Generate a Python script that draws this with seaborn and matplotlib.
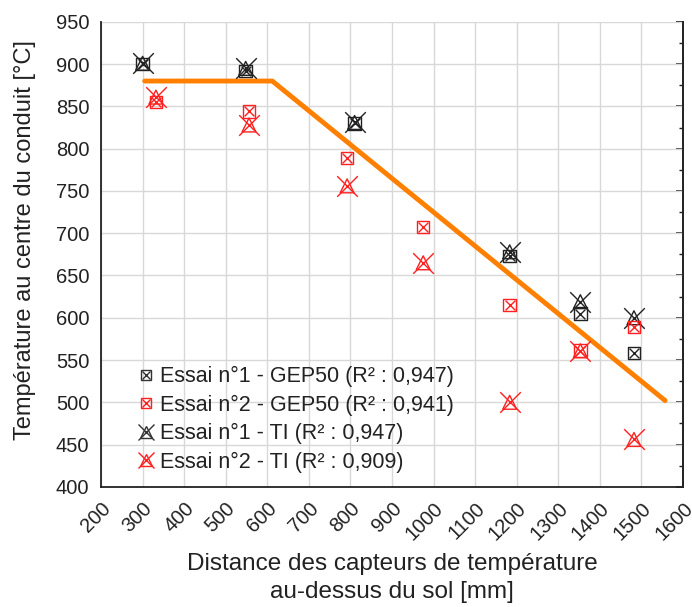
import numpy as np
import pandas as pd
import matplotlib
matplotlib.use('Agg')
import matplotlib.pyplot as plt
import seaborn as sns
from matplotlib.lines import Line2D
from matplotlib.legend_handler import HandlerTuple
from matplotlib.ticker import MultipleLocator

# data
x_e1 = [300, 548, 810, 1183, 1353, 1482]
gep_e1 = [900, 892, 830, 673, 605, 558]
ti_e1 = [901, 895, 831, 678, 619, 600]

x_e2 = [332, 556, 792, 975, 1183, 1353, 1482]
gep_e2 = [855, 844, 789, 707, 615, 561, 589]
ti_e2 = [861, 828, 756, 665, 500, 561, 456]

fit_x = [305, 612, 1557]
fit_y = [880, 880, 502]

labels = ['Essai n°1 - GEP50 (R² : 0,947)', 'Essai n°2 - GEP50 (R² : 0,941)',
          'Essai n°1 - TI (R² : 0,947)', 'Essai n°2 - TI (R² : 0,909)']

sns.set_style('white')
plt.rcParams['font.family'] = ['Liberation Sans', 'DejaVu Sans']
plt.rcParams['font.size'] = 14

fig = plt.figure(figsize=(6.92, 6.07), dpi=100)
ax = fig.add_axes([0.146, 0.198, 0.841, 0.766])

df1 = pd.DataFrame({'x': x_e1, 'gep': gep_e1, 'ti': ti_e1})
df2 = pd.DataFrame({'x': x_e2, 'gep': gep_e2, 'ti': ti_e2})
fit = pd.DataFrame({'x': fit_x, 'y': fit_y})

sns.lineplot(data=fit, x='x', y='y', color='#ff8000', lw=3.5, ax=ax, zorder=2, sort=False)

for d, col in [(df1, '#222222'), (df2, '#ff2020')]:
    # box with cross
    sns.scatterplot(data=d, x='x', y='gep', marker='s', s=80, facecolor='none',
                    edgecolor=col, linewidth=1.0, ax=ax, zorder=3)
    sns.scatterplot(data=d, x='x', y='gep', marker='x', s=50, color=col,
                    linewidth=1.0, ax=ax, zorder=3)
    # triangle with cross
    sns.scatterplot(data=d, x='x', y='ti', marker='^', s=100, facecolor='none',
                    edgecolor=col, linewidth=1.0, ax=ax, zorder=3)
    sns.scatterplot(data=d, x='x', y='ti', marker='x', s=220, color=col,
                    linewidth=1.0, ax=ax, zorder=3)

ax.set_xlim(200, 1600)
ax.set_ylim(400, 950)
ax.xaxis.set_major_locator(MultipleLocator(100))
ax.xaxis.set_minor_locator(MultipleLocator(50))
ax.yaxis.set_major_locator(MultipleLocator(50))
ax.yaxis.set_minor_locator(MultipleLocator(25))
ax.grid(True, which='major', color='#d8d8d8', lw=1.0)
ax.set_axisbelow(True)

ax.spines['top'].set_visible(False)
for s in ['left', 'right', 'bottom']:
    ax.spines[s].set_color('#222222')
    ax.spines[s].set_linewidth(1.3)

ax.tick_params(axis='both', which='major', length=5, width=1.2, color='#222222',
               labelsize=14.5, labelcolor='#222222')
ax.tick_params(axis='both', which='minor', length=3, width=1.0, color='#222222')
ax.tick_params(axis='both', which='both', direction='out', top=False, right=False)

# right axis: ticks pointing inside, no labels
ax_r = ax.secondary_yaxis('right')
ax_r.yaxis.set_major_locator(MultipleLocator(50))
ax_r.yaxis.set_minor_locator(MultipleLocator(25))
ax_r.tick_params(which='major', direction='in', length=5, width=1.2, color='#222222', labelright=False)
ax_r.tick_params(which='minor', direction='in', length=3, width=1.0, color='#222222')
ax_r.spines['right'].set_color('#222222')
ax_r.spines['right'].set_linewidth(1.3)

plt.setp(ax.get_xticklabels(), rotation=45, ha='right', rotation_mode='anchor')

ax.set_xlabel('Distance des capteurs de température\nau-dessus du sol [mm]', fontsize=17.5,
              color='#222222', labelpad=7, linespacing=1.35)
ax.set_ylabel('Température au centre du conduit [°C]', fontsize=17, color='#222222')
ax.yaxis.set_label_coords(-0.112, 0.53)

def mk(m, col, size):
    return Line2D([], [], marker=m, ls='none', mfc='none', mec=col, ms=size, mew=1.0)

handles = [
    (mk('s', '#333333', 7.5), mk('x', '#333333', 6)),
    (mk('s', '#ff2020', 7.5), mk('x', '#ff2020', 6)),
    (mk('^', '#333333', 9), mk('x', '#333333', 12)),
    (mk('^', '#ff2020', 9), mk('x', '#ff2020', 12)),
]
ax.legend(handles, labels, handler_map={tuple: HandlerTuple(ndivide=1)},
          loc='lower left', bbox_to_anchor=(0.026, -0.012), frameon=False, fontsize=15.5,
          handletextpad=0.15, labelspacing=0.35, handlelength=1.0, labelcolor='#222222')

fig.savefig('out.png', dpi=100)
